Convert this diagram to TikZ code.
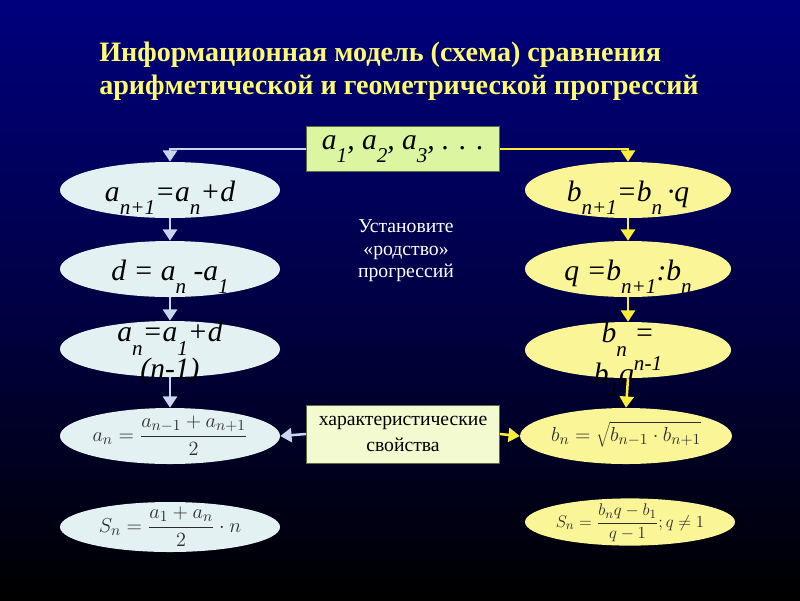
\documentclass[tikz,border=0pt]{standalone}
\usepackage{fontspec}
\setmainfont{Liberation Serif}
\usetikzlibrary{shapes.geometric,arrows.meta,positioning}

\definecolor{bgtop}{RGB}{0,0,125}
\definecolor{titlecol}{RGB}{252,252,110}
\definecolor{ellAfill}{RGB}{228,241,242}
\definecolor{ellGfill}{RGB}{250,245,150}
\definecolor{seqfill}{RGB}{220,245,160}
\definecolor{propfill}{RGB}{244,250,208}
\definecolor{boxline}{RGB}{95,105,70}
\definecolor{lineAcol}{RGB}{200,214,240}
\definecolor{lineGcol}{RGB}{250,238,60}
\definecolor{mathcol}{RGB}{45,45,45}

% lowered and raised indices, as in the slide
\newcommand\dn[1]{\raisebox{-0.45em}{\fontsize{15}{15}\selectfont #1}}
\newcommand\up[1]{\raisebox{0.45em}{\fontsize{15}{15}\selectfont #1}}
% text that may run out of its ellipse
\newcommand\overrun[1]{\smash{\begin{tabular}[t]{@{}c@{}}#1\end{tabular}}}

\tikzset{
    ellA/.style={ellipse, fill=ellAfill, minimum width=5.5cm, minimum height=1.4cm,
        inner sep=0pt, text height=18pt, text depth=2pt,
        font=\fontsize{21}{24}\selectfont\itshape},
    ellG/.style={ellA, fill=ellGfill, minimum width=5.15cm},
    twoline/.style={text height=0pt, text depth=10pt},
    mathell/.style={text height=10pt, text depth=2.5pt, text=mathcol,
        font=\fontsize{15}{18}\selectfont},
    lineA/.style={draw=lineAcol, line width=1.8pt,
        -{Triangle[width=10pt,length=8pt,fill=lineAcol]}},
    lineG/.style={lineA, draw=lineGcol, -{Triangle[width=10pt,length=8pt,fill=lineGcol]}},
    titletext/.style={text=titlecol, align=left, inner sep=0pt,
        font=\fontsize{20}{23.5}\selectfont\bfseries},
    infotext/.style={text=white, align=center, font=\fontsize{14}{16}\selectfont}
}

\begin{document}
\begin{tikzpicture}[x=0.025cm, y=-0.025cm]
    % background
    \shade[top color=bgtop, bottom color=black, middle color=bgtop!55!black]
        (0,0) rectangle (800,600);

    \node[titletext, anchor=north west] (title) at (99,42)
        {Информационная модель (схема) сравнения\\арифметической и геометрической прогрессий};

    % sequence box
    \node[draw=boxline, fill=seqfill, minimum width=4.83cm, minimum height=1.12cm,
        font=\fontsize{21}{24}\selectfont\itshape] (seq) at (403,149)
        {a\dn{1}, a\dn{2}, a\dn{3}, . . .};

    % arithmetic
    \node[ellA] (ar1) at (170,190) {a\dn{n+1}=a\dn{n}+d};
    \node[ellA] (ar2) at (170,269) {d = a\dn{n} -a\dn{1}};
    \node[ellA, twoline] (ar3) at (170,349) {\overrun{a\dn{n}=a\dn{1}+d\\(n-1)}};
    \node[ellA, mathell] (ar4) at (170,436)
        {$\displaystyle a_n=\frac{a_{n-1}+a_{n+1}}{2}$};
    \node[ellA, mathell, minimum height=1.25cm] (ar5) at (170,527)
        {$\displaystyle S_n=\frac{a_1+a_n}{2}\cdot n$};

    % geometric
    \node[ellG] (gm1) at (628,190) {b\dn{n+1}=b\dn{n}\,·q};
    \node[ellG] (gm2) at (628,269) {q =b\dn{n+1}:b\dn{n}};
    \node[ellG, twoline] (gm3) at (628,350) {\overrun{b\dn{n} =\\b\dn{1}q\up{n-1}}};
    \node[ellG, mathell] (gm4) at (626,436)
        {$\displaystyle b_n=\sqrt{b_{n-1}\cdot b_{n+1}}$};
    \node[ellG, mathell, minimum height=1.18cm, font=\fontsize{12.5}{15}\selectfont] (gm5)
        at (630,522) {$\displaystyle S_n=\frac{b_nq-b_1}{q-1};q\neq1$};

    \node[infotext] (hint) at (406,251) {Установите\\«родство»\\прогрессий};

    \node[draw=boxline, fill=propfill, minimum width=4.83cm, minimum height=1.45cm,
        align=center, font=\fontsize{14}{18}\selectfont] (prop) at (403,434)
        {характеристические\\свойства};

    % connectors
    \draw[lineA] (seq.west) -| (ar1.north);
    \draw[lineG] (seq.east) -| (gm1.north);
    \foreach \i/\j in {1/2,2/3,3/4} {
        \draw[lineA] (ar\i.south) -- (ar\j.north);
        \draw[lineG] (gm\i.south) -- (gm\j.north);
    }
    \draw[lineA] (prop.west) -- (ar4.east);
    \draw[lineG] (prop.east) -- (gm4.west);
\end{tikzpicture}
\end{document}
